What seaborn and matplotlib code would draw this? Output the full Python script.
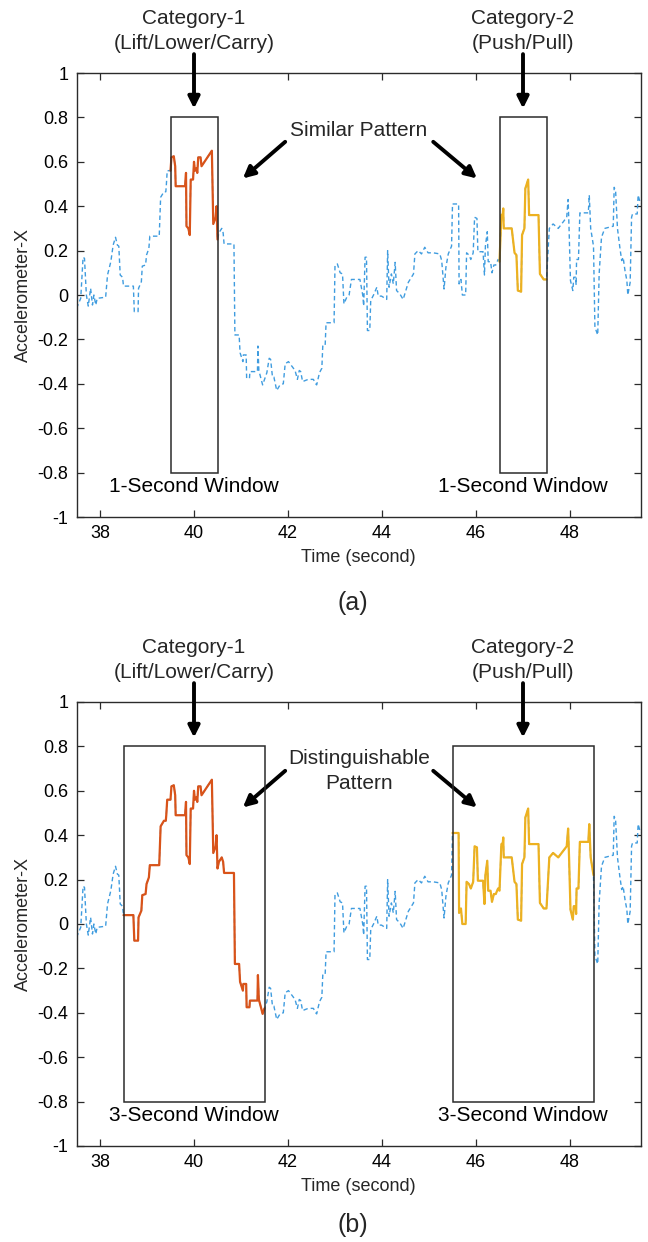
import numpy as np
import pandas as pd
import matplotlib
matplotlib.use("Agg")
import matplotlib.pyplot as plt
from matplotlib.patches import Rectangle
import seaborn as sns

# ---------------- data ----------------
time_s = [37.50, 37.59, 37.64, 37.67, 37.71, 37.75, 37.80, 37.84, 37.87, 37.91,
          37.94, 38.12, 38.16, 38.23, 38.28, 38.33, 38.37, 38.40, 38.43, 38.48,
          38.50, 38.71, 38.73, 38.81, 38.82, 38.88, 38.90, 38.97, 38.99, 39.04,
          39.06, 39.26, 39.29, 39.36, 39.40, 39.41, 39.43, 39.50, 39.52, 39.57,
          39.60, 39.61, 39.81, 39.83, 39.84, 39.88, 39.91, 39.93, 39.98, 40.00,
          40.02, 40.05, 40.07, 40.09, 40.14, 40.16, 40.38, 40.41, 40.46, 40.48,
          40.50, 40.53, 40.59, 40.62, 40.64, 40.85, 40.87, 40.96, 40.98, 41.04,
          41.05, 41.11, 41.12, 41.18, 41.19, 41.35, 41.36, 41.38, 41.43, 41.46,
          41.50, 41.55, 41.60, 41.63, 41.67, 41.70, 41.76, 41.83, 41.90, 41.94,
          42.01, 42.08, 42.15, 42.20, 42.24, 42.27, 42.31, 42.43, 42.54, 42.59,
          42.61, 42.67, 42.72, 42.74, 42.79, 42.81, 42.98, 43.00, 43.05, 43.11,
          43.16, 43.19, 43.25, 43.30, 43.35, 43.53, 43.59, 43.61, 43.64, 43.67,
          43.69, 43.74, 43.76, 43.82, 43.89, 43.92, 43.99, 44.10, 44.12, 44.15,
          44.20, 44.24, 44.28, 44.31, 44.38, 44.45, 44.56, 44.67, 44.70, 44.77,
          44.84, 44.91, 44.98, 45.09, 45.23, 45.27, 45.32, 45.36, 45.41, 45.48,
          45.50, 45.63, 45.64, 45.68, 45.71, 45.78, 45.80, 45.85, 45.89, 45.94,
          45.97, 46.02, 46.04, 46.15, 46.18, 46.20, 46.24, 46.26, 46.31, 46.34,
          46.38, 46.42, 46.47, 46.50, 46.54, 46.57, 46.58, 46.59, 46.76, 46.82,
          46.86, 46.89, 46.96, 46.98, 47.03, 47.05, 47.11, 47.13, 47.33, 47.36,
          47.44, 47.50, 47.56, 47.64, 47.75, 47.93, 47.96, 47.98, 48.01, 48.06,
          48.08, 48.12, 48.13, 48.14, 48.18, 48.21, 48.39, 48.41, 48.44, 48.50,
          48.53, 48.59, 48.62, 48.67, 48.74, 48.92, 48.94, 48.97, 49.01, 49.06,
          49.10, 49.13, 49.17, 49.21, 49.23, 49.28, 49.31, 49.33, 49.43, 49.45,
          49.50]

accel_x = [-0.06, -0.015, 0.17, 0.165, 0.00, -0.05, 0.03, -0.045, 0.00, -0.045,
           -0.015, -0.01, 0.09, 0.15, 0.225, 0.26, 0.225, 0.22, 0.09, 0.08,
           0.04, 0.04, -0.075, -0.075, 0.03, 0.06, 0.13, 0.135, 0.18, 0.21,
           0.265, 0.265, 0.44, 0.465, 0.465, 0.49, 0.56, 0.56, 0.62, 0.625,
           0.58, 0.49, 0.49, 0.55, 0.31, 0.30, 0.27, 0.52, 0.52, 0.60,
           0.56, 0.57, 0.55, 0.62, 0.62, 0.58, 0.65, 0.32, 0.35, 0.40,
           0.25, 0.28, 0.30, 0.28, 0.23, 0.23, -0.18, -0.18, -0.26, -0.30,
           -0.27, -0.27, -0.375, -0.375, -0.345, -0.345, -0.23, -0.34, -0.38, -0.405,
           -0.38, -0.35, -0.285, -0.29, -0.37, -0.37, -0.43, -0.405, -0.40, -0.31,
           -0.30, -0.32, -0.34, -0.38, -0.34, -0.345, -0.39, -0.38, -0.38, -0.40,
           -0.405, -0.35, -0.33, -0.23, -0.23, -0.125, -0.125, 0.135, 0.14, 0.10,
           0.095, -0.04, -0.01, 0.00, 0.07, 0.07, 0.00, -0.05, 0.17, 0.17,
           -0.16, -0.16, -0.025, 0.00, 0.035, -0.005, -0.005, -0.02, 0.20, 0.035,
           0.095, 0.05, 0.147, 0.02, 0.005, -0.02, 0.057, 0.095, 0.185, 0.20,
           0.185, 0.215, 0.19, 0.19, 0.185, 0.155, 0.027, 0.125, 0.185, 0.22,
           0.41, 0.41, 0.05, 0.07, 0.00, 0.00, 0.19, 0.18, 0.16, 0.19,
           0.35, 0.345, 0.195, 0.195, 0.09, 0.22, 0.285, 0.15, 0.15, 0.10,
           0.135, 0.135, 0.16, 0.15, 0.36, 0.365, 0.39, 0.30, 0.30, 0.19,
           0.18, 0.02, 0.015, 0.27, 0.30, 0.48, 0.52, 0.36, 0.36, 0.095,
           0.07, 0.07, 0.30, 0.32, 0.30, 0.35, 0.43, 0.30, 0.065, 0.02,
           0.08, 0.08, 0.045, 0.16, 0.16, 0.37, 0.37, 0.45, 0.30, 0.22,
           -0.145, -0.18, 0.095, 0.26, 0.30, 0.31, 0.485, 0.47, 0.30, 0.215,
           0.155, 0.17, 0.11, 0.065, 0.00, 0.057, 0.35, 0.365, 0.365, 0.45,
           0.41]

panel_windows = [[(39.5, 40.5), (46.5, 47.5)],
                 [(38.5, 41.5), (45.5, 48.5)]]
window_colors = ["#D95319", "#EDB120"]
window_labels = ["1-Second Window", "3-Second Window"]
category_labels = ["Category-1\n(Lift/Lower/Carry)", "Category-2\n(Push/Pull)"]
category_x = [40, 47]
pattern_labels = ["Similar Pattern", "Distinguishable\nPattern"]
panel_tags = ["(a)", "(b)"]
x_ticks = [38, 40, 42, 44, 46, 48]
y_ticks = [-1, -0.8, -0.6, -0.4, -0.2, 0, 0.2, 0.4, 0.6, 0.8, 1]

df = pd.DataFrame({"t": time_s, "a": accel_x})

# ---------------- style ----------------
sns.set_theme(style="white")
plt.rcParams["font.family"] = ["Liberation Sans", "DejaVu Sans"]
plt.rcParams["axes.unicode_minus"] = False

W, H = 648, 1242
fig = plt.figure(figsize=(W / 100, H / 100), dpi=100)
fig.patch.set_facecolor("white")

ax_left, ax_w, ax_h = 76.5 / W, 564 / W, 444 / H
ax_tops = [73, 702]
blue = "#3F9CDF"
frame_col = "#2b2b2b"

for p, top in enumerate(ax_tops):
    ax = fig.add_axes([ax_left, (H - top - 444) / H, ax_w, ax_h])
    ax.set_facecolor("white")

    sns.lineplot(data=df, x="t", y="a", ax=ax, sort=False, estimator=None,
                 color=blue, linewidth=1.0, linestyle=(0, (3.2, 2.2)))

    for (lo, hi), col, cx in zip(panel_windows[p], window_colors, category_x):
        seg = df[(df["t"] >= lo - 1e-9) & (df["t"] <= hi + 1e-9)]
        sns.lineplot(data=seg, x="t", y="a", ax=ax, sort=False, estimator=None,
                     color=col, linewidth=1.6)
        ax.add_patch(Rectangle((lo, -0.8), hi - lo, 1.6, fill=False,
                               edgecolor=frame_col, linewidth=1.1, zorder=4))
        ax.text((lo + hi) / 2, -0.862, window_labels[p], ha="center",
                va="center", fontsize=15, color="black")

    # category headers and down arrows
    for lab, cx in zip(category_labels, category_x):
        ax.text(cx, 1.19, lab, ha="center", va="center", fontsize=15,
                linespacing=1.38, clip_on=False)
        ax.annotate("", xy=(cx, 0.84), xytext=(cx, 1.085),
                    xycoords="data", textcoords="data", annotation_clip=False,
                    arrowprops=dict(arrowstyle="-|>", color="black", lw=2.8,
                                    mutation_scale=17, shrinkA=0, shrinkB=0))

    # pattern label and diagonal arrows
    if p == 0:
        ax.text(43.5, 0.743, pattern_labels[0], ha="center", va="center",
                fontsize=15)
    else:
        ax.text(43.52, 0.69, pattern_labels[1], ha="center", va="center",
                fontsize=15, linespacing=1.38)
    for tail, tip in [((41.94, 0.69), (41.04, 0.525)),
                      ((45.09, 0.69), (46.02, 0.525))]:
        ax.annotate("", xy=tip, xytext=tail,
                    arrowprops=dict(arrowstyle="-|>", color="black", lw=2.8,
                                    mutation_scale=17, shrinkA=0, shrinkB=0))

    ax.set_xlim(37.5, 49.5)
    ax.set_ylim(-1, 1)
    ax.set_xticks(x_ticks)
    ax.set_yticks(y_ticks)
    ax.set_yticklabels([f"{v:g}" for v in y_ticks])
    ax.set_xticklabels([str(v) for v in x_ticks])
    ax.tick_params(axis="both", which="both", direction="in", length=5,
                   width=0.9, color=frame_col, labelsize=13,
                   top=True, right=True, bottom=True, left=True,
                   labelcolor="black", pad=6)
    for s in ax.spines.values():
        s.set_visible(True)
        s.set_color(frame_col)
        s.set_linewidth(1.0)
    ax.set_xlabel("Time (second)", fontsize=13, labelpad=5)
    ax.set_ylabel("Accelerometer-X", fontsize=13, labelpad=4)

    tag_y = [603, 1225][p]
    fig.text(353 / W, 1 - tag_y / H, panel_tags[p], ha="center", va="center",
             fontsize=18)

fig.savefig("out.png", dpi=100, facecolor="white")
